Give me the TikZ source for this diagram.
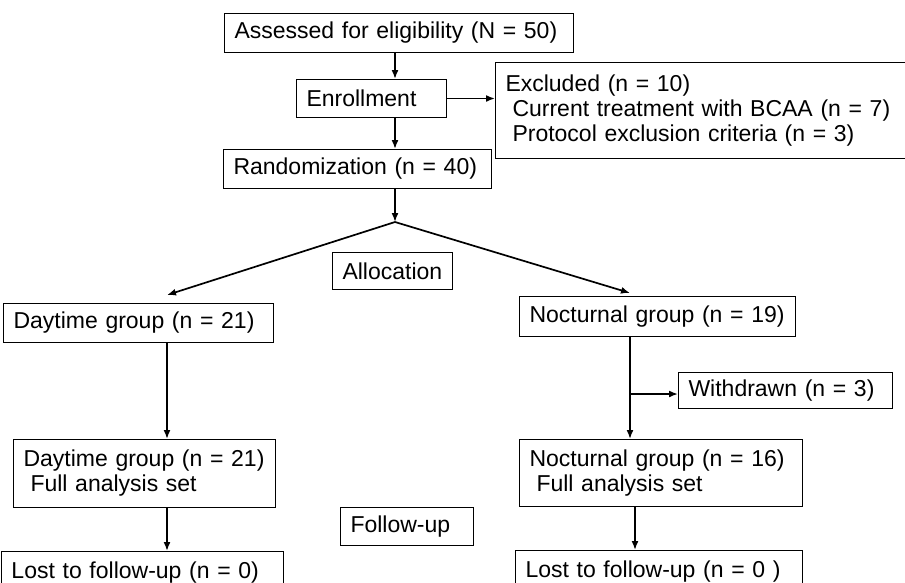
\documentclass[tikz,border=0pt]{standalone}
\usepackage{fontspec}
\setmainfont{Liberation Sans}
\usetikzlibrary{arrows.meta}
\begin{document}
\begin{tikzpicture}[x=1pt,y=-1pt,
  box/.style={draw, line width=1pt, inner xsep=10pt, inner ysep=0pt, align=left, anchor=north west, font=\fontsize{23}{25}\selectfont},
  arr/.style={line width=1.7pt, -{Latex[length=9pt,width=7pt]}}]
\useasboundingbox (0,0) rectangle (905,582);
\clip (0,0) rectangle (905,582);
\node[box, text width=329pt, minimum height=39pt] (assess) at (224,13) {\mbox{Assessed for eligibility (N = 50)}};
\node[box, text width=130pt, minimum height=38pt] (enroll) at (296,79) {\mbox{Enrollment}};
\node[box, text width=397pt, minimum height=96pt] (excl) at (495,62) {\mbox{Excluded (n = 10)}\\\mbox{\hspace*{7pt}Current treatment with BCAA (n = 7)}\\\mbox{\hspace*{7pt}Protocol exclusion criteria (n = 3)}};
\node[box, text width=248pt, minimum height=39pt] (rand) at (223,149) {\mbox{Randomization (n = 40)}};
\node[box, text width=100pt, minimum height=37pt] (alloc) at (332,252) {\mbox{Allocation}};
\node[box, text width=250pt, minimum height=39pt] (day1) at (3,303) {\mbox{Daytime group (n = 21)}};
\node[box, text width=256pt, minimum height=40pt] (noc1) at (519,296) {\mbox{Nocturnal group (n = 19)}};
\node[box, text width=194pt, minimum height=36pt] (withd) at (678,372) {\mbox{Withdrawn (n = 3)}};
\node[box, text width=242pt, minimum height=68pt] (day2) at (13,439) {\mbox{Daytime group (n = 21)}\\\mbox{\hspace*{7pt}Full analysis set}};
\node[box, text width=263pt, minimum height=67pt] (noc2) at (519,439) {\mbox{Nocturnal group (n = 16)}\\\mbox{\hspace*{7pt}Full analysis set}};
\node[box, text width=113pt, minimum height=38pt] (follow) at (340,507) {\mbox{Follow-up}};
\node[box, text width=262pt, minimum height=42pt] (lost1) at (1,551) {\mbox{Lost to follow-up (n = 0)}};
\node[box, text width=267pt, minimum height=42pt] (lost2) at (515,550) {\mbox{Lost to follow-up (n = 0 )}};
% connectors
\coordinate (sp) at (395,0);
\coordinate (apex) at (395,222);
\coordinate (dtip) at (167,295);
\coordinate (ntip) at (630,293);
\coordinate (dx) at (167,0);
\coordinate (nx) at (630,0);
\coordinate (nx2) at (635,0);
\coordinate (wy) at (0,394);
\draw[arr] (sp |- assess.south) -- (sp |- enroll.north);
\draw[arr] (enroll.east) -- (enroll.east -| excl.west);
\draw[arr] (sp |- enroll.south) -- (sp |- rand.north);
\draw[arr] (sp |- rand.south) -- (apex);
\draw[arr] (apex) -- (dtip);
\draw[arr] (apex) -- (ntip);
\draw[arr] (dx |- day1.south) -- (dx |- day2.north);
\draw[arr] (nx |- noc1.south) -- (nx |- noc2.north);
\draw[arr] (nx |- wy) -- (wy -| withd.west);
\draw[arr] (dx |- day2.south) -- (dx |- lost1.north);
\draw[arr] (nx2 |- noc2.south) -- (nx2 |- lost2.north);
\end{tikzpicture}
\end{document}
